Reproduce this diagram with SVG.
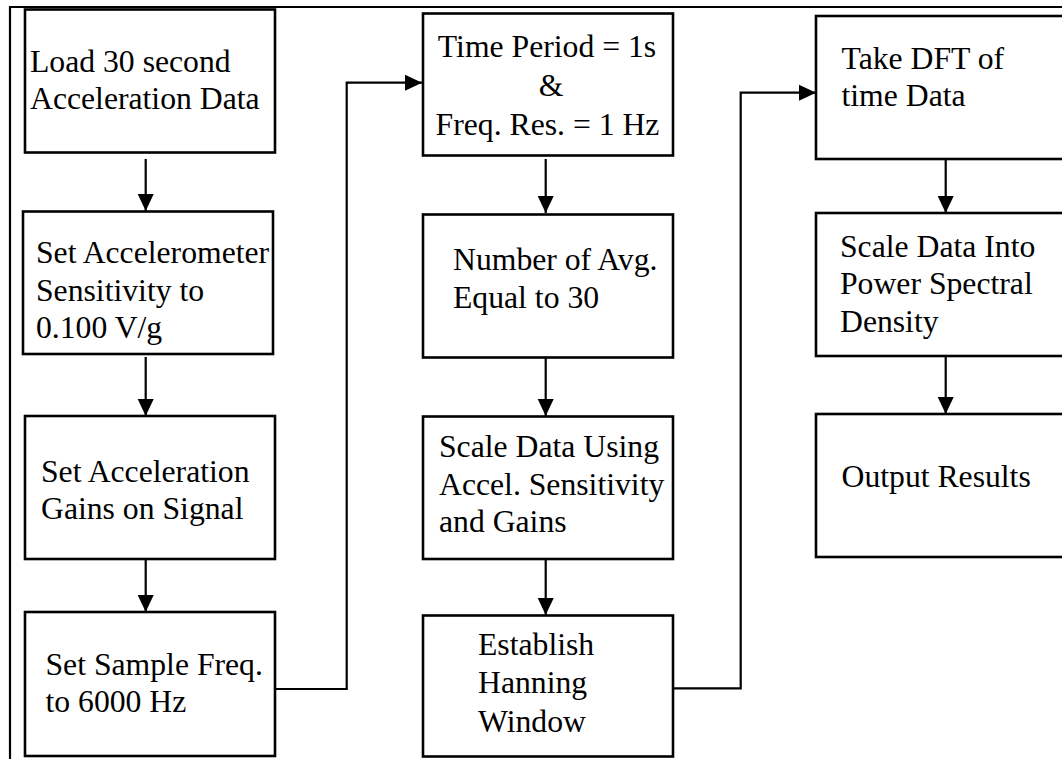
<svg xmlns="http://www.w3.org/2000/svg" width="1062" height="759" viewBox="0 0 1062 759">
<style>
.box{fill:#fff;stroke:#000;stroke-width:2.6}
.t{font-family:"Liberation Serif","Times New Roman",serif;font-size:31.7px;fill:#000}
.c{fill:none;stroke:#000;stroke-width:2.2}
.frame{fill:none;stroke:#000;stroke-width:2.2}
</style>
<defs>
<marker id="ah" markerUnits="userSpaceOnUse" markerWidth="18" markerHeight="18" viewBox="0 0 18 16" refX="17" refY="8" orient="auto">
<path d="M0,0 L17,8 L0,16 Z" fill="#000"/>
</marker>
</defs>
<rect width="1062" height="759" fill="#fff"/>
<path class="frame" d="M10,759 V7 H1062"/>
<g id="n1"><rect class="box" x="25" y="9.5" width="250" height="143"/>
<text class="t" x="30" y="71.7">Load 30 second</text><text class="t" x="30" y="109.3">Acceleration Data</text></g>
<g id="n2"><rect class="box" x="23" y="211.5" width="250" height="142.5"/>
<text class="t" x="36" y="262.7">Set Accelerometer</text><text class="t" x="36" y="300.5">Sensitivity to</text><text class="t" x="36" y="338.3">0.100 V/g</text></g>
<g id="n3"><rect class="box" x="25" y="416" width="250" height="143"/>
<text class="t" x="41" y="481.7">Set Acceleration</text><text class="t" x="41" y="519.3">Gains on Signal</text></g>
<g id="n4"><rect class="box" x="25" y="612" width="250" height="144"/>
<text class="t" x="45.5" y="675">Set Sample Freq.</text><text class="t" x="45.5" y="712.3">to 6000 Hz</text></g>
<g id="n5"><rect class="box" x="423" y="13.5" width="250" height="142"/>
<text class="t" x="547" y="56.7" text-anchor="middle">Time Period = 1s</text><text class="t" x="551" y="95.5" text-anchor="middle">&amp;</text><text class="t" x="547.5" y="134.5" text-anchor="middle">Freq. Res. = 1 Hz</text></g>
<g id="n6"><rect class="box" x="423" y="214.5" width="250" height="143"/>
<text class="t" x="453" y="270">Number of Avg.</text><text class="t" x="453" y="308.3">Equal to 30</text></g>
<g id="n7"><rect class="box" x="423" y="416.5" width="250" height="142.5"/>
<text class="t" x="439" y="457.3">Scale Data Using</text><text class="t" x="439" y="495">Accel. Sensitivity</text><text class="t" x="439" y="532.3">and Gains</text></g>
<g id="n8"><rect class="box" x="423" y="615.5" width="250" height="141"/>
<text class="t" x="478" y="655">Establish</text><text class="t" x="478" y="693.3">Hanning</text><text class="t" x="478" y="731.7">Window</text></g>
<g id="n9"><rect class="box" x="816" y="16" width="270" height="143"/>
<text class="t" x="841.5" y="68.5">Take DFT of</text><text class="t" x="841.5" y="106">time Data</text></g>
<g id="n10"><rect class="box" x="816" y="213" width="270" height="143"/>
<text class="t" x="840" y="256.7">Scale Data Into</text><text class="t" x="840" y="294">Power Spectral</text><text class="t" x="840" y="331.5">Density</text></g>
<g id="n11"><rect class="box" x="816" y="414" width="270" height="143"/>
<text class="t" x="841.5" y="486.7">Output Results</text></g>
<g id="connectors">
<path class="c" d="M145.7,159 V211" marker-end="url(#ah)"/>
<path class="c" d="M145.7,357 V416" marker-end="url(#ah)"/>
<path class="c" d="M145.7,559 V612" marker-end="url(#ah)"/>
<path class="c" d="M545.7,159 V213" marker-end="url(#ah)"/>
<path class="c" d="M545.7,358 V416" marker-end="url(#ah)"/>
<path class="c" d="M545.7,559 V615" marker-end="url(#ah)"/>
<path class="c" d="M945.7,159 V213" marker-end="url(#ah)"/>
<path class="c" d="M945.7,357 V414" marker-end="url(#ah)"/>
<path class="c" d="M275,689 H346.7 V82.7 H422" marker-end="url(#ah)"/>
<path class="c" d="M673,688.3 H740.7 V92.7 H816" marker-end="url(#ah)"/>
</g>
</svg>
